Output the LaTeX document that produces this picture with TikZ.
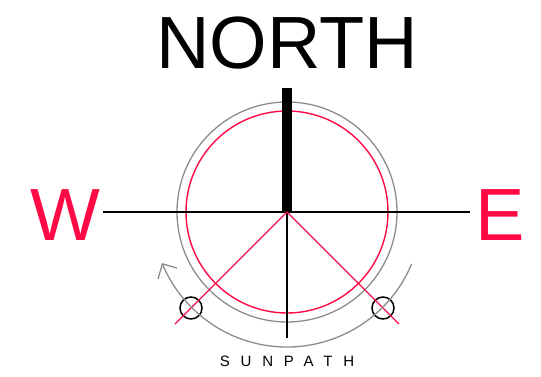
\documentclass[tikz,border=0pt]{standalone}
\usepackage{fontspec}
\setmainfont{Liberation Sans}
\usetikzlibrary{arrows}
\definecolor{compassred}{HTML}{FF0A46}
\definecolor{pathgray}{HTML}{8C8C8C}
\tikzstyle{axis} = [line width=1.4pt, black]
\tikzstyle{ray} = [line width=1.4pt, compassred]
\tikzstyle{ring} = [line width=1.3pt, pathgray]
\tikzstyle{sun} = [draw, circle, line width=1.5pt, minimum size=22pt, inner sep=0pt]
\tikzstyle{dirtext} = [inner sep=0pt, anchor=base, font=\fontsize{74}{74}\selectfont]

\begin{document}
\begin{tikzpicture}[x=1pt, y=1pt]
    \useasboundingbox (0,0) rectangle (541,376);
    \coordinate (c) at (287,164);
    \coordinate (w) at (103,164);
    \coordinate (e) at (470,164);
    \coordinate (s) at (287,38);
    \coordinate (n) at (287,288);
    \coordinate (rl) at (175,52);
    \coordinate (rr) at (399,52);
    % rings
    \draw[ring] (c) circle[radius=110];
    \draw[ray] (c) circle[radius=101];
    % axes
    \draw[axis] (w) -- (e);
    \draw[axis] (c) -- (s);
    \draw[line width=10pt] (c) -- (n);
    % rays to the sun positions
    \node[sun] (sunL) at (191,68) {};
    \node[sun] (sunR) at (383,68) {};
    \draw[ray] (c) -- (rl);
    \draw[ray] (c) -- (rr);
    % sun path
    \draw[ring] (c) ++(-22.6:135) arc[start angle=-22.6, end angle=-157.4, radius=135]
        coordinate (tip);
    \draw[ring] (158,97) -- (tip) -- (177,108);
    % labels
    \node[dirtext] (north) at (287,308) {NORTH};
    \node[dirtext, text=compassred] (west) at (65,136) {W};
    \node[dirtext, text=compassred] (east) at (500,136) {E};
    \node[inner sep=0pt, anchor=base, font=\fontsize{15}{15}\selectfont\addfontfeature{LetterSpace=72}]
        (sunpath) at (287,10) {SUNPATH};
\end{tikzpicture}
\end{document}
